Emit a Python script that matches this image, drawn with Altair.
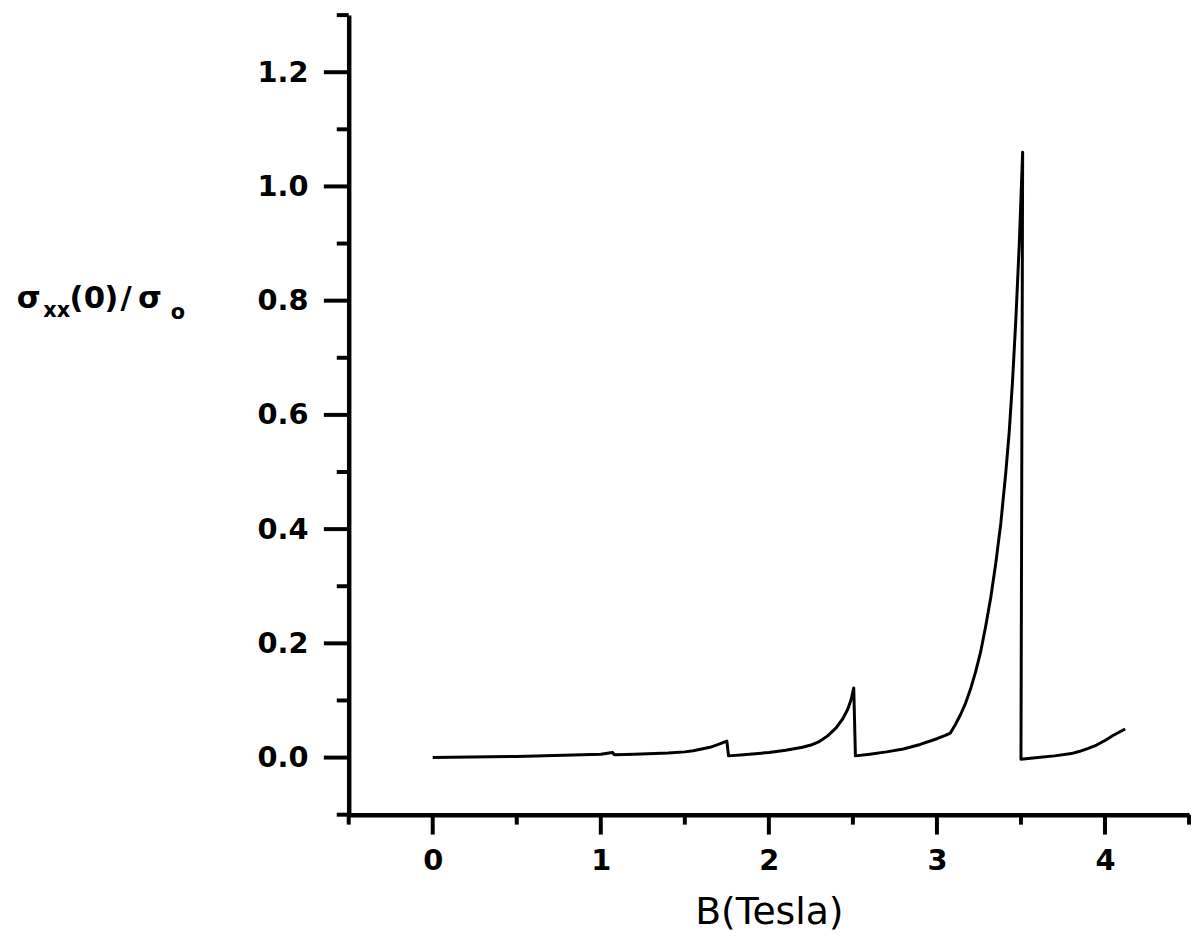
import altair as alt
import pandas as pd

# Field B (Tesla)
B = [0.0, 0.5, 1.0, 1.07, 1.08, 1.2, 1.4, 1.5, 1.55, 1.6, 1.65, 1.7, 1.75, 1.76,
     1.85, 2.0, 2.1, 2.2, 2.25, 2.3, 2.35, 2.4, 2.44, 2.47, 2.49, 2.505, 2.515,
     2.6, 2.7, 2.8, 2.9, 3.0, 3.05, 3.08, 3.11, 3.14, 3.17, 3.2, 3.23, 3.26, 3.29,
     3.32, 3.35, 3.38, 3.41, 3.43, 3.45, 3.47, 3.49, 3.51, 3.50,
     3.6, 3.7, 3.8, 3.85, 3.9, 3.95, 4.0, 4.05, 4.12]
# sigma_xx(0)/sigma_o
S = [0.0, 0.002, 0.006, 0.009, 0.005, 0.006, 0.008, 0.010, 0.012, 0.015, 0.018, 0.023, 0.029, 0.003,
     0.005, 0.009, 0.013, 0.018, 0.022, 0.028, 0.038, 0.052, 0.068, 0.085, 0.102, 0.122, 0.003,
     0.006, 0.010, 0.015, 0.023, 0.033, 0.039, 0.043, 0.058, 0.075, 0.095, 0.12, 0.15, 0.185, 0.23,
     0.28, 0.34, 0.41, 0.50, 0.57, 0.66, 0.77, 0.90, 1.06, -0.003,
     0.0, 0.003, 0.007, 0.011, 0.016, 0.022, 0.03, 0.039, 0.05]

x_major = [0, 1, 2, 3, 4]
x_minor = [-0.5, 0.5, 1.5, 2.5, 3.5, 4.5]
y_major = [0.0, 0.2, 0.4, 0.6, 0.8, 1.0, 1.2]
y_minor = [-0.1, 0.1, 0.3, 0.5, 0.7, 0.9, 1.1, 1.3]

df = pd.DataFrame({"B": B, "S": S, "i": list(range(len(B)))})

FONT = "DejaVu Sans"
W, H = 846, 805

xscale = alt.Scale(domain=[-0.5, 4.5], nice=False, zero=False)
yscale = alt.Scale(domain=[-0.1, 1.3], nice=False, zero=False)

x_axis = alt.Axis(
    values=x_major,
    title="B(Tesla)",
    titleFont=FONT, titleFontSize=38, titleFontWeight="normal", titleColor="black",
    titlePadding=19,
    format="d",
    labelFont=FONT, labelFontSize=29, labelFontWeight="bold", labelColor="black",
    labelPadding=32, labelFlush=False, labelOverlap=False,
    ticks=False, tickSize=0,
    domainWidth=4.5, domainColor="black", grid=False,
)

y_axis = alt.Axis(
    values=y_major,
    title="",
    format=".1f",
    labelFont=FONT, labelFontSize=29, labelFontWeight="bold", labelColor="black",
    labelPadding=41, labelFlush=False, labelOverlap=False,
    ticks=False, tickSize=0,
    domainWidth=4.5, domainColor="black", grid=False,
)

line = alt.Chart(df).mark_line(color="black", strokeWidth=3, strokeJoin="round").encode(
    x=alt.X("B:Q", scale=xscale, axis=x_axis),
    y=alt.Y("S:Q", scale=yscale, axis=y_axis),
    order="i:Q",
)

def y_ticks(vals, length):
    return alt.Chart(pd.DataFrame({"S": vals})).mark_rule(
        color="black", strokeWidth=4
    ).encode(
        y=alt.Y("S:Q", scale=yscale, axis=y_axis),
        x=alt.value(-length), x2=alt.value(0),
    )

def x_ticks(vals, length):
    return alt.Chart(pd.DataFrame({"B": vals})).mark_rule(
        color="black", strokeWidth=4
    ).encode(
        x=alt.X("B:Q", scale=xscale, axis=x_axis),
        y=alt.value(H), y2=alt.value(H + length),
    )

tick_layers = [y_ticks(y_major, 25), y_ticks(y_minor, 12),
               x_ticks(x_major, 20), x_ticks(x_minor, 10)]

one = alt.Data(values=[{"k": 1}])

def piece(txt, size, cx, py):
    return alt.Chart(one).mark_text(
        text=txt, font=FONT, fontSize=size, fontWeight="bold", color="black",
        align="center", baseline="alphabetic",
    ).encode(x=alt.value(cx), y=alt.value(py))

# y-axis label  σxx(0)/σo  (x positions relative to the plot's left edge)
label_parts = [
    piece("σ", 31, 29 - 351, 295),
    piece("xx", 21, 57 - 351, 304),
    piece("(", 31, 77 - 351, 295),
    piece("0", 31, 95 - 351, 295),
    piece(")", 31, 112 - 351, 295),
    piece("/", 31, 127 - 351, 295),
    piece("σ", 31, 151 - 351, 295),
    piece("o", 21, 179 - 351, 306),
]

chart = alt.layer(line, *tick_layers, *label_parts).properties(
    width=W,
    height=H,
    autosize=alt.AutoSizeParams(type="none"),
    padding={"left": 343, "top": 4, "right": 5, "bottom": 122},
).configure_view(stroke=None)

chart.save("out.html", embed_options={"renderer": "svg", "actions": False})
